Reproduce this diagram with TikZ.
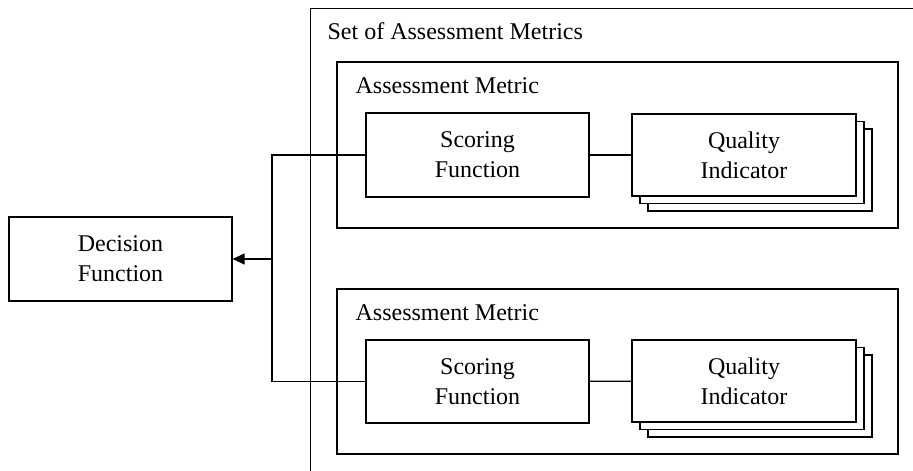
\documentclass[tikz,border=0pt]{standalone}
\usepackage{fontspec}
\setmainfont{Liberation Serif}
\usetikzlibrary{arrows.meta}
\begin{document}
\begin{tikzpicture}[x=1pt,y=-1pt,line width=1.2pt,
  txt/.style={font=\fontsize{24}{30}\selectfont},
  box/.style={draw,fill=white,align=center,inner sep=0pt,txt},
  frame/.style={draw,inner sep=0pt},
  lbl/.style={anchor=base west,inner sep=0pt,txt},
  link/.style={draw},
  arrowlink/.style={draw,-{Triangle[length=12pt,width=11pt]}}]
\useasboundingbox (0,0) rectangle (913,471);
\clip (0,0) rectangle (913,471);
% outer frame (cropped on right and bottom)
\node[frame,anchor=north west,minimum width=640,minimum height=500] (set) at (310,8) {};
\node[lbl] (setlbl) at (327,39) {Set of Assessment Metrics};
% assessment metric 1
\node[frame,minimum width=561,minimum height=166] (am1) at (617.5,145) {};
\node[lbl] (am1lbl) at (355,93) {Assessment Metric};
\node[box,minimum width=223,minimum height=84] (sf1) at (477.5,155) {Scoring\\Function};
\node[box,minimum width=224,minimum height=82] (qi1c) at (760,170) {};
\node[box,minimum width=224,minimum height=82] (qi1b) at (752,162.5) {};
\node[box,minimum width=224,minimum height=82] (qi1) at (744,155) {Quality\\Indicator};
% assessment metric 2
\node[frame,minimum width=561,minimum height=165] (am2) at (617.5,371.5) {};
\node[lbl] (am2lbl) at (355,320) {Assessment Metric};
\node[box,minimum width=223,minimum height=83] (sf2) at (477.5,381.5) {Scoring\\Function};
\node[box,minimum width=224,minimum height=82] (qi2c) at (760,396) {};
\node[box,minimum width=224,minimum height=82] (qi2b) at (752,388.5) {};
\node[box,minimum width=224,minimum height=82] (qi2) at (744,381) {Quality\\Indicator};
% decision function
\node[box,minimum width=223,minimum height=84] (dec) at (120.5,259) {Decision\\Function};
% connectors
\draw[link] (sf1) -- (qi1);
\draw[link] (sf2) -- (qi2);
\coordinate (jx) at (272,259);
\draw[link] (sf1.west) -| (jx) |- (sf2.west);
\draw[arrowlink] (jx) -- (dec.east);
\end{tikzpicture}
\end{document}
